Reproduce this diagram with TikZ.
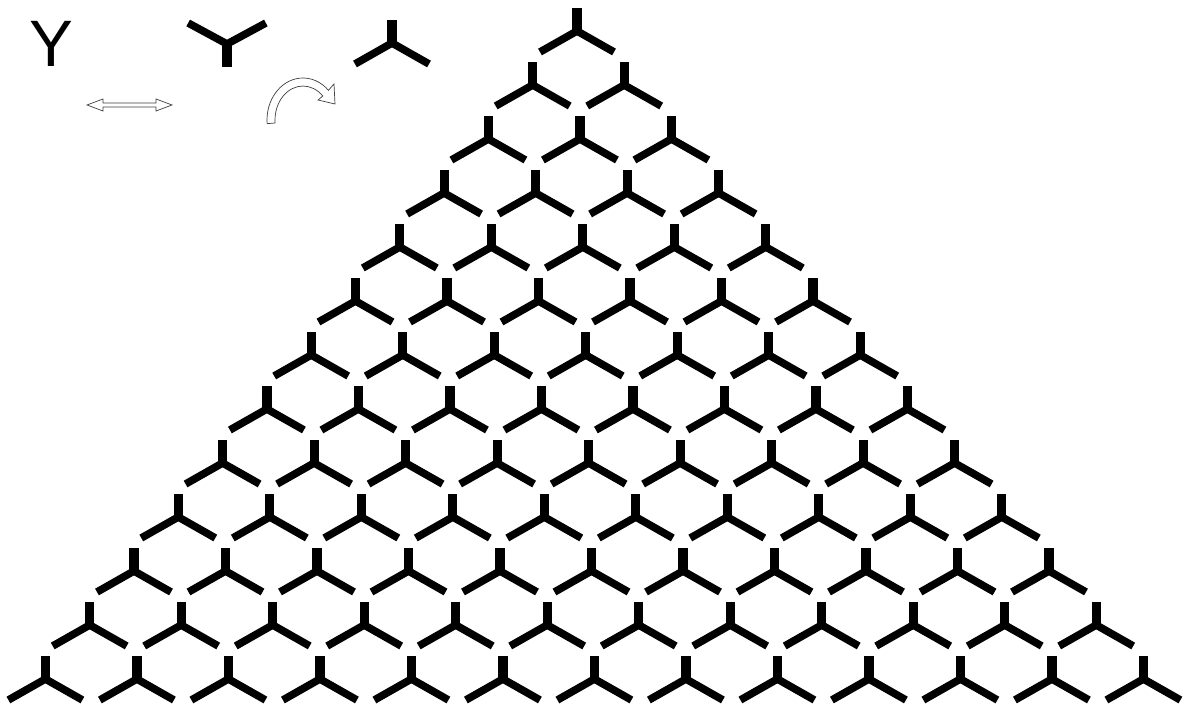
\documentclass[tikz,border=0pt]{standalone}
\usepackage{fontspec}
\newfontfamily\glyphfont{Liberation Sans}
\begin{document}
\begin{tikzpicture}[x=0.025cm,y=-0.025cm,
    leg/.style={line width=0.19cm},
    hollow/.style={draw=black!75,line width=0.5pt,fill=white},
    tripod/.pic={\fill (-4.6,0) rectangle (4.6,26);
      \draw[leg] (0,23) -- (-37,44);
      \draw[leg] (0,23) -- (37,44);}]
  \fill[white] (0,0) rectangle (1184,709);
  \useasboundingbox (0,0) rectangle (1184,709);
  % legend
  \node[font=\glyphfont\fontsize{46.7}{50}\selectfont,inner sep=0pt,anchor=base] (letterY) at (51,67) {Y};
  \pic[rotate=180,xscale=1.05] at (227,67) {tripod};
  \pic at (392,20) {tripod};
  \filldraw[hollow] (87,105) -- (103,99) -- (103,103) -- (156,103) -- (156,99) -- (172,105)
    -- (156,111) -- (156,107) -- (103,107) -- (103,111) -- cycle;
  \filldraw[hollow] (303,120) ++(175:36 and 42)
    arc[start angle=175,end angle=315,x radius=36,y radius=42]
    -- (334,84) -- (335,104) -- (318,100) -- (322.8,96)
    arc[start angle=315,end angle=175,x radius=28,y radius=34] -- cycle;
  % triangle of tripods
  \foreach \r in {0,...,12}
    \foreach \k in {0,...,\r}
      \pic at ({577+91.5*\k-44.3*\r},{8+54*\r}) {tripod};
\end{tikzpicture}
\end{document}
